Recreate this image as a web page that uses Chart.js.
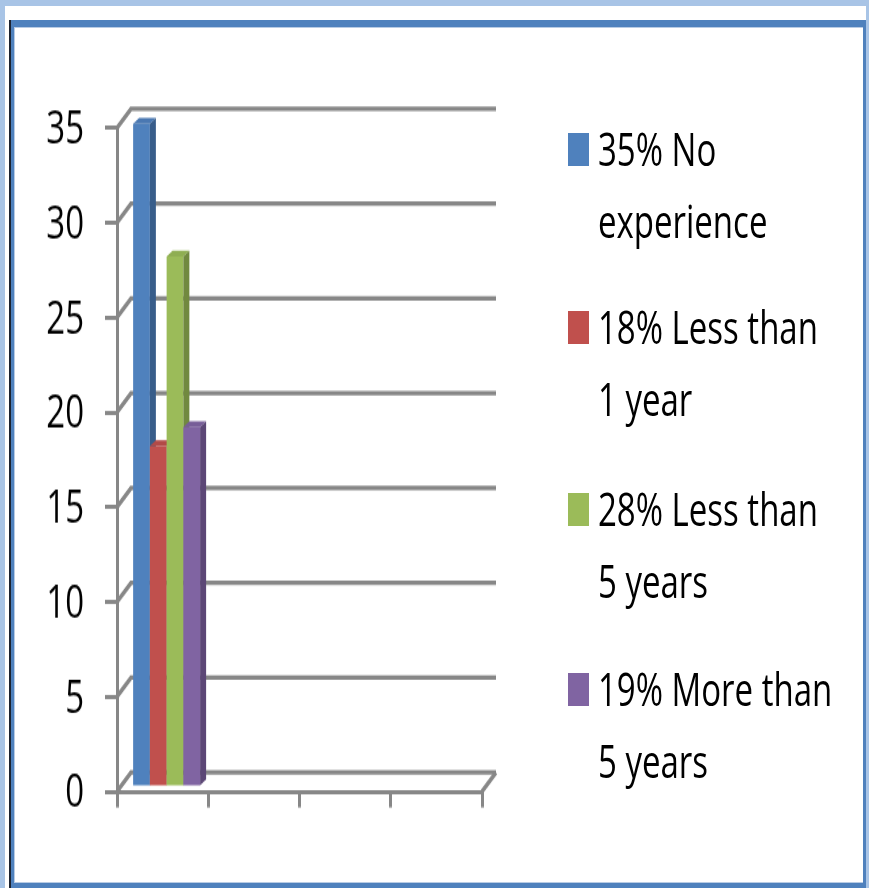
<!DOCTYPE html>
<html>
<head>
<meta charset="utf-8">
<script src="https://cdn.jsdelivr.net/npm/chart.js@4.4.1/dist/chart.umd.min.js"></script>
<style>
  html, body { margin: 0; padding: 0; }
  body { width: 869px; height: 888px; overflow: hidden; background: #ffffff; position: relative; font-family: "Open Sans", sans-serif; }
  .lb { position: absolute; background: #a8c4e6; }
  #frame { position: absolute; left: 11px; top: 20px; width: 855px; height: 868px; box-sizing: border-box;
           border-top: 7px solid #4f81bd; border-left: 3px solid #4f81bd; border-right: 3px solid #4f81bd; border-bottom: 5px solid #4f81bd;
           box-shadow: -2px 0 0 #1c2330; }
  #frameInner { position: absolute; left: 0; top: 0; right: 0; bottom: 0; border-top: 1px solid #b8cbe4; border-left: 1px solid #b8cbe4; border-bottom: 1px solid #b8cbe4; }
  #wrap { position: absolute; left: 0; top: 0; width: 869px; height: 644px; transform: scaleY(1.3789); transform-origin: 0 0; }
  #legend { position: absolute; left: 0; top: 0; width: 869px; height: 888px; }
  .sw { position: absolute; left: 568px; width: 21px; height: 33px; }
  .ln { position: absolute; left: 598px; height: 40px; line-height: 40px; font-size: 33px; color: #000; white-space: nowrap;
        transform: scaleY(1.3789); transform-origin: 0 50%; font-family: "Open Sans", sans-serif; }
</style>
</head>
<body>
<div class="lb" style="left:0;top:0;width:869px;height:6px;"></div>
<div class="lb" style="left:0;top:0;width:5px;height:888px;"></div>
<div class="lb" style="left:866px;top:0;width:3px;height:888px;"></div>
<div id="frame"><div id="frameInner"></div></div>
<div id="wrap"><canvas id="c" width="869" height="644"></canvas></div>
<div id="legend"></div>
<script>
// ---- data ----
const categories = ["", "", "", ""];
const seriesNames = ["35% No experience", "18% Less than 1 year", "28% Less than 5 years", "19% More than 5 years"];
const legendLines = [["35% No", "experience"], ["18% Less than", "1 year"], ["28% Less than", "5 years"], ["19% More than", "5 years"]];
const noExperience = [35, null, null, null];
const lessThan1 = [18, null, null, null];
const lessThan5 = [28, null, null, null];
const moreThan5 = [19, null, null, null];
const yTicks = [0, 5, 10, 15, 20, 25, 30, 35];

// ---- styles ----
const frontColors = ["#4f81bd", "#c0504d", "#9bbb59", "#8064a2"];
const topColors = ["#4a78b2", "#b24a47", "#8fae52", "#775d98"];
const sideColors = ["#385d8a", "#8e3b39", "#71893f", "#5c4776"];
const gridColor = "#878787";
const wallDepth = { dx: 14, dy: -13.8 };
const barShift = { dx: 4, dy: -3 };
const barDepth = { dx: 6, dy: -4.3 };

const seriesData = [noExperience, lessThan1, lessThan5, moreThan5];

const threeD = {
  id: "threeD",
  beforeDatasetsDraw(chart) {
    const ctx = chart.ctx;
    const ys = chart.scales.y;
    const L = chart.chartArea.left, R = chart.chartArea.right;
    ctx.save();
    ctx.strokeStyle = gridColor;
    ctx.lineWidth = 3.3;
    ctx.lineJoin = "miter";
    yTicks.forEach(v => {
      const py = ys.getPixelForValue(v);
      ctx.beginPath();
      ctx.moveTo(L, py);
      ctx.lineTo(L + wallDepth.dx, py + wallDepth.dy);
      ctx.lineTo(R + wallDepth.dx, py + wallDepth.dy);
      ctx.stroke();
    });
    const p0 = ys.getPixelForValue(0);
    ctx.beginPath();
    ctx.moveTo(R, p0);
    ctx.lineTo(R + wallDepth.dx, p0 + wallDepth.dy);
    ctx.stroke();

    // bars with depth, drawn in series order
    chart.data.datasets.forEach((ds, i) => {
      const meta = chart.getDatasetMeta(i);
      meta.data.forEach((el, j) => {
        if (ds.data[j] == null) return;
        const p = el.getProps(["x", "y", "base", "width"], true);
        const xl = p.x - p.width / 2 + barShift.dx;
        const xr = p.x + p.width / 2 + barShift.dx;
        const yt = p.y + barShift.dy;
        const yb = p.base + barShift.dy;
        ctx.fillStyle = frontColors[i];
        ctx.fillRect(xl, yt, xr - xl, yb - yt);
        ctx.fillStyle = topColors[i];
        ctx.beginPath();
        ctx.moveTo(xl, yt); ctx.lineTo(xr, yt);
        ctx.lineTo(xr + barDepth.dx, yt + barDepth.dy);
        ctx.lineTo(xl + barDepth.dx, yt + barDepth.dy);
        ctx.closePath(); ctx.fill();
        ctx.fillStyle = sideColors[i];
        ctx.beginPath();
        ctx.moveTo(xr, yt);
        ctx.lineTo(xr + barDepth.dx, yt + barDepth.dy);
        ctx.lineTo(xr + barDepth.dx, yb + barDepth.dy);
        ctx.lineTo(xr, yb);
        ctx.closePath(); ctx.fill();
      });
    });
    ctx.restore();
    return false;
  }
};

new Chart(document.getElementById("c"), {
  type: "bar",
  data: {
    labels: categories,
    datasets: seriesData.map((d, i) => ({
      label: seriesNames[i],
      data: d,
      backgroundColor: frontColors[i],
      borderWidth: 0,
      categoryPercentage: 0.734,
      barPercentage: 1.0
    }))
  },
  options: {
    responsive: false,
    animation: false,
    layout: { padding: { top: 92.75, right: 387, bottom: 0, left: 0 } },
    plugins: { legend: { display: false }, tooltip: { enabled: false } },
    scales: {
      x: {
        grid: { display: true, offset: true, drawOnChartArea: false, drawTicks: true, tickLength: 11.6, color: gridColor, lineWidth: 3 },
        border: { display: true, color: gridColor, width: 3 },
        ticks: { display: false },
        afterFit(scale) { scale.height = 70; }
      },
      y: {
        min: 0, max: 35,
        afterBuildTicks(scale) { scale.ticks = yTicks.map(v => ({ value: v })); },
        grid: { display: true, drawOnChartArea: false, drawTicks: true, tickLength: 12, color: gridColor, lineWidth: 3 },
        border: { display: true, color: gridColor, width: 3 },
        ticks: { color: "#000", padding: 21, labelOffset: 2, font: { family: "'Open Sans'", size: 33 } },
        afterFit(scale) { scale.width = 117; }
      }
    }
  },
  plugins: [threeD]
});

// legend (HTML)
const legend = document.getElementById("legend");
const itemTop = [150, 328, 510, 690];
const lineGap = 72;
legendLines.forEach((lines, i) => {
  const sw = document.createElement("div");
  sw.className = "sw";
  sw.style.top = (itemTop[i] - 17) + "px";
  sw.style.background = frontColors[i];
  legend.appendChild(sw);
  lines.forEach((t, k) => {
    const d = document.createElement("div");
    d.className = "ln";
    d.textContent = t;
    d.style.top = (itemTop[i] + k * lineGap - 21) + "px";
    legend.appendChild(d);
  });
});
</script>
</body>
</html>
